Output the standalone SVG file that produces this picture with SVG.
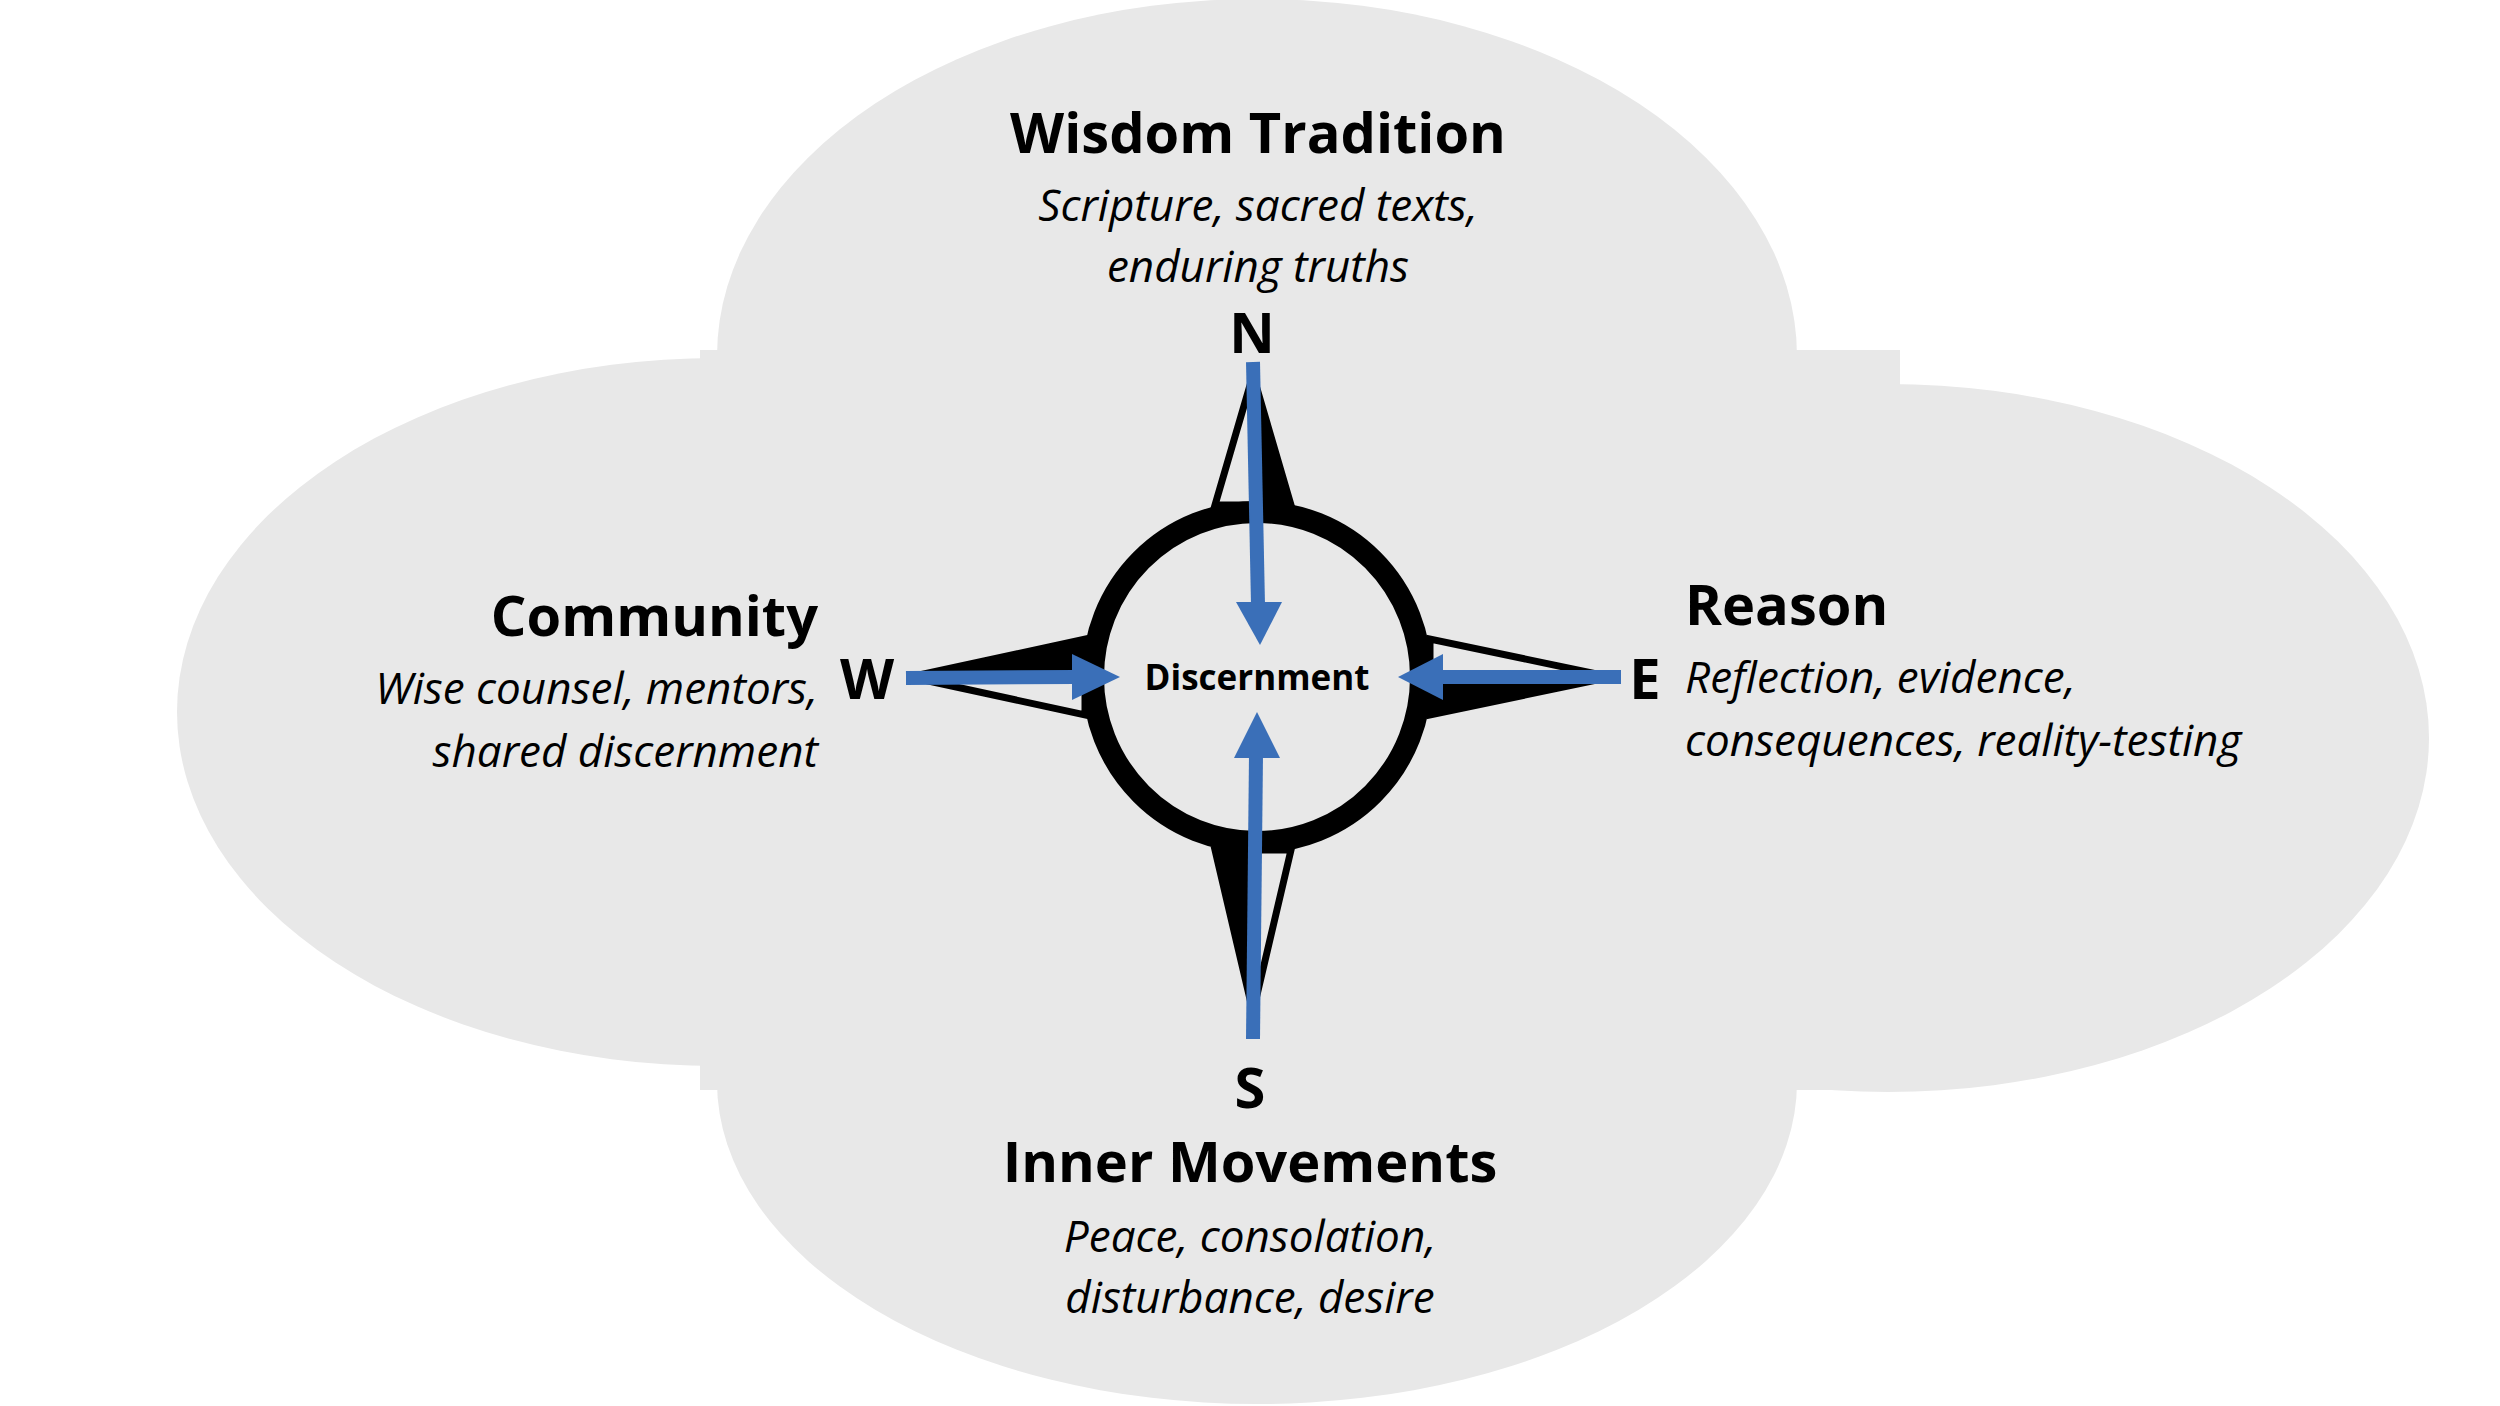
<svg xmlns="http://www.w3.org/2000/svg" width="2500" height="1406" viewBox="0 0 2500 1406">
<defs>
<style>
.h{font-family:"Open Sans","Liberation Sans",sans-serif;font-weight:700;font-size:56px;fill:#000}
.s{font-family:"Open Sans","Liberation Sans",sans-serif;font-style:italic;font-size:44px;fill:#000}
.d{font-family:"Open Sans","Liberation Sans",sans-serif;font-weight:700;font-size:56px;fill:#000}
.a{stroke:#3a6fb8;stroke-width:14;fill:none}
.ah{fill:#3a6fb8}
.pt{stroke:#000;stroke-width:7;stroke-linejoin:miter;fill:none}
</style>
</defs>
<rect width="2500" height="1406" fill="#fff"/>
<g id="cloud" fill="#e8e8e8">
<ellipse cx="1257" cy="356" rx="540" ry="357"/>
<ellipse cx="1257" cy="1082" rx="540" ry="322"/>
<ellipse cx="717" cy="712" rx="540" ry="354"/>
<ellipse cx="1888" cy="738" rx="541" ry="354"/>
<rect x="700" y="350" width="1200" height="740"/>
</g>
<g id="compass">
<path class="pt" d="M1253 375 L1215 505 L1291 505 Z"/>
<path d="M1253 375 L1291 505 L1253 505 Z" fill="#000"/>
<path class="pt" d="M1253 1012 L1215 850 L1291 850 Z"/>
<path d="M1253 1012 L1215 850 L1253 850 Z" fill="#000"/>
<path class="pt" d="M910 677 L1085 639 L1085 715 Z"/>
<path d="M910 677 L1085 639 L1085 677 Z" fill="#000"/>
<path class="pt" d="M1611 677 L1430 639 L1430 715 Z"/>
<path d="M1611 677 L1430 715 L1430 677 Z" fill="#000"/>
<ellipse cx="1257" cy="677" rx="164" ry="165" fill="#e8e8e8" stroke="#000" stroke-width="22"/>
</g>
<g id="connectors">
<path class="a" d="M1253 362 L1258 605"/><path class="ah" d="M1236 602 L1282 602 L1260 645 Z"/>
<path class="a" d="M906 678 L1075 677"/><path class="ah" d="M1072 654 L1072 700 L1120 677 Z"/>
<path class="a" d="M1621 677 L1440 677"/><path class="ah" d="M1443 654 L1443 700 L1398 677 Z"/>
<path class="a" d="M1253 1039 L1256 755"/><path class="ah" d="M1234 758 L1280 758 L1257 712 Z"/>
</g>
<g id="center"><text x="1257" y="690" text-anchor="middle" class="d" style="font-size:35px">Discernment</text></g>
<g id="north">
<text x="1258" y="153" text-anchor="middle" class="h">Wisdom Tradition</text>
<text x="1258" y="221" text-anchor="middle" class="s">Scripture, sacred texts,</text>
<text x="1258" y="282" text-anchor="middle" class="s">enduring truths</text>
<text x="1252" y="353" text-anchor="middle" class="d">N</text>
</g>
<g id="west">
<text x="818" y="636" text-anchor="end" class="h">Community</text>
<text x="818" y="704" text-anchor="end" class="s">Wise counsel, mentors,</text>
<text x="818" y="767" text-anchor="end" class="s">shared discernment</text>
<text x="867" y="699" text-anchor="middle" class="d">W</text>
</g>
<g id="east">
<text x="1685" y="625" class="h">Reason</text>
<text x="1685" y="693" class="s">Reflection, evidence,</text>
<text x="1685" y="756" class="s">consequences, reality-testing</text>
<text x="1645" y="699" text-anchor="middle" class="d">E</text>
</g>
<g id="south">
<text x="1250" y="1108" text-anchor="middle" class="d">S</text>
<text x="1250" y="1182" text-anchor="middle" class="h">Inner Movements</text>
<text x="1250" y="1252" text-anchor="middle" class="s">Peace, consolation,</text>
<text x="1250" y="1313" text-anchor="middle" class="s">disturbance, desire</text>
</g>
</svg>
